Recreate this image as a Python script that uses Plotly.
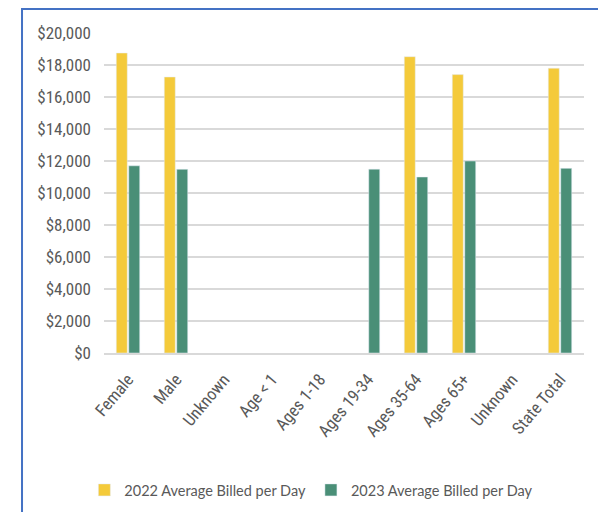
import plotly.graph_objects as go

categories = ["Female", "Male", "Unknown", "Age < 1", "Ages 1-18", "Ages 19-34",
              "Ages 35-64", "Ages 65+", "Unknown", "State Total"]
billed_2022 = [18750, 17250, None, None, None, None, 18520, 17400, None, 17800]
billed_2023 = [11700, 11480, None, None, None, 11490, 11000, 12000, None, 11540]

positions = list(range(len(categories)))

fig = go.Figure()

fig.add_trace(go.Bar(
    x=positions,
    y=billed_2022,
    name="2022 Average Billed per Day",
    marker_color="#F4CA3A"
))

fig.add_trace(go.Bar(
    x=positions,
    y=billed_2023,
    name="2023 Average Billed per Day",
    marker_color="#4A8F77"
))

# page body has an 8px margin, so the figure is 8px smaller than the window
fig.update_layout(
    width=598, height=504,
    margin=dict(l=96, r=22, t=25, b=159, autoexpand=False),
    paper_bgcolor="white", plot_bgcolor="white",
    barmode="group", bargap=0.48, bargroupgap=0.12,
    font=dict(family="Roboto Condensed, Liberation Sans", color="#595959", size=17),
    legend=dict(orientation="h", x=0.432, xanchor="center", y=-0.428, yanchor="middle",
                font=dict(family="Lato, Liberation Sans", size=14.5, color="#595959")),
    shapes=[dict(type="rect", xref="paper", yref="paper",
                 x0=-0.1708, x1=1.0417, y0=-0.55, y1=1.075,
                 line=dict(color="#4472C4", width=2))],
)

fig.update_xaxes(
    tickmode="array", tickvals=positions, ticktext=categories,
    tickangle=-50, range=[-0.5, len(categories) - 0.5], automargin=False,
    ticks="outside", ticklen=8, tickcolor="rgba(0,0,0,0)",
    showgrid=False, zeroline=False, showline=True, linecolor="#D9D9D9", linewidth=1.5,
)

fig.update_yaxes(
    range=[0, 20000], dtick=2000, tickprefix="$", tickformat=",d", automargin=False,
    showgrid=True, gridcolor="#D9D9D9", gridwidth=1.5, zeroline=False,
    ticklabelstandoff=12,
)

fig.write_html("out.html")
